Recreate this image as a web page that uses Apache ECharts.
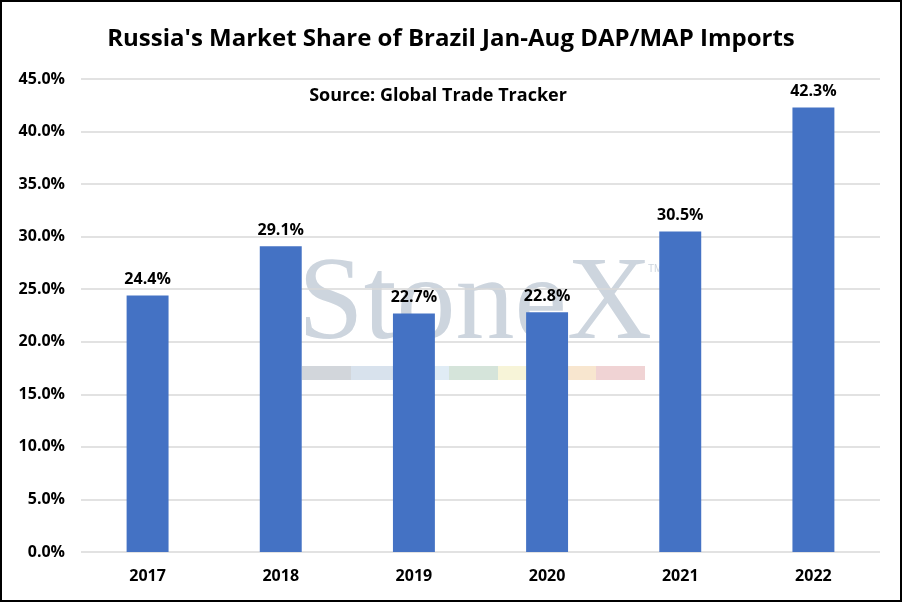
<!doctype html>
<html>
<head>
<meta charset="utf-8">
<title>Russia's Market Share of Brazil Jan-Aug DAP/MAP Imports</title>
<style>
html,body{margin:0;padding:0;background:#fff;}
#chart{width:902px;height:602px;box-sizing:border-box;border:2px solid #000;}
</style>
</head>
<body>
<div id="chart"></div>
<script src="https://cdn.jsdelivr.net/npm/echarts@6/dist/echarts.min.js"></script>
<script>
var years = ['2017', '2018', '2019', '2020', '2021', '2022'];
var shares = [24.4, 29.1, 22.7, 22.8, 30.5, 42.3];
var yTicks = [0, 5, 10, 15, 20, 25, 30, 35, 40, 45];

var font = 'Open Sans';
// watermark stripe colours
var stripe = ['#d2d6db', '#d8e2ed', '#e0ecf5', '#d5e4da', '#f7f4d8', '#f8e6cf', '#f0d3d4'];

var chart = echarts.init(document.getElementById('chart'));

var graphics = [{
    type: 'text',
    left: 296, top: 246,
    z: 0,
    style: {
        text: 'StoneX',
        font: '118px "Liberation Serif", serif',
        fill: '#cdd5de'
    }
}, {
    type: 'text',
    left: 646, top: 262,
    z: 0,
    style: { text: 'TM', font: '10px "Liberation Sans"', fill: '#cdd5de' }
}];
stripe.forEach(function (c, i) {
    graphics.push({
        type: 'rect',
        z: 0,
        shape: { x: 300 + i * 49, y: 364, width: 49, height: 14 },
        style: { fill: c }
    });
});

var option = {
    animation: false,
    title: [{
        text: "Russia's Market Share of Brazil Jan-Aug DAP/MAP Imports",
        left: 'center',
        top: 20,
        textStyle: { fontFamily: font, fontWeight: 'bold', fontSize: 24, color: '#000' }
    }, {
        text: 'Source: Global Trade Tracker',
        left: 431, textAlign: 'center',
        top: 80,
        textStyle: { fontFamily: font, fontWeight: 'bold', fontSize: 18, color: '#000' }
    }],
    graphic: graphics,
    grid: { left: 79, right: 20, top: 77, bottom: 48 },
    xAxis: {
        type: 'category',
        data: years,
        axisLine: { show: false },
        axisTick: { show: false },
        axisLabel: { margin: 16, fontFamily: font, fontWeight: 'bold', fontSize: 16, color: '#000' }
    },
    yAxis: {
        type: 'value',
        min: yTicks[0],
        max: yTicks[yTicks.length - 1],
        interval: 5,
        axisLine: { show: false },
        axisTick: { show: false },
        splitLine: { lineStyle: { color: '#d9d9d9', width: 1.5 } },
        axisLabel: {
            margin: 16,
            fontFamily: font, fontWeight: 'bold', fontSize: 16, color: '#000',
            formatter: function (v) { return v.toFixed(1) + '%'; }
        }
    },
    series: [{
        type: 'bar',
        data: shares,
        barWidth: '31.5%',
        z: 2,
        itemStyle: { color: '#4472c4' },
        label: {
            show: true,
            position: 'top',
            distance: 8,
            fontFamily: font, fontWeight: 'bold', fontSize: 16, color: '#000',
            formatter: function (p) { return p.value.toFixed(1) + '%'; }
        }
    }]
};
chart.setOption(option);
</script>
</body>
</html>
